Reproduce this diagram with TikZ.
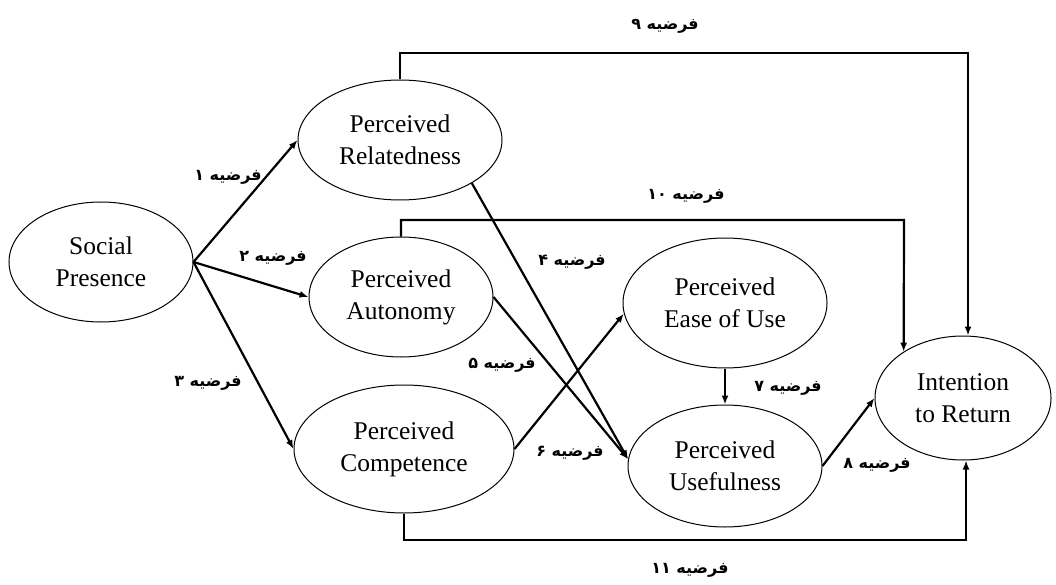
\documentclass[tikz,border=0pt]{standalone}
\usepackage{fontspec}
\setmainfont{Liberation Serif}
\newfontfamily\arabicfont[Script=Arabic]{DejaVu Sans}
\TeXXeTstate=1
\usetikzlibrary{shapes.geometric,arrows.meta}

\newcommand{\farz}[1]{\arabicfont\bfseries\beginR فرضیه \beginL#1\endL\endR}

\begin{document}
\begin{tikzpicture}[x=1pt,y=-1pt,
  construct/.style={draw,ellipse,line width=1pt,inner sep=0pt,align=center,font=\fontsize{25.5}{32}\selectfont},
  hyp/.style={line width=2.2pt,-{Latex[length=9pt,width=7pt]}},
  hyplab/.style={font=\fontsize{16}{19}\selectfont,inner sep=0pt}
]
\useasboundingbox (0,0) rectangle (1056,585);

% constructs
\node[construct,minimum width=184pt,minimum height=120pt] (social) at (101,262) {Social\\Presence};
\node[construct,minimum width=204pt,minimum height=120pt] (related) at (400,140) {Perceived\\Relatedness};
\node[construct,minimum width=184pt,minimum height=120pt] (autonomy) at (401,297) {Perceived\\Autonomy};
\node[construct,minimum width=220pt,minimum height=128pt] (compet) at (404,449) {Perceived\\Competence};
\node[construct,minimum width=204pt,minimum height=130pt] (ease) at (725,303) {Perceived\\Ease of Use};
\node[construct,minimum width=194pt,minimum height=122pt] (useful) at (725,466) {Perceived\\Usefulness};
\node[construct,minimum width=176pt,minimum height=124pt] (intent) at (963,398) {Intention\\to Return};

% direct paths
\draw[hyp] (social.east) -- (related.west); % <- h1
\draw[hyp] (social.east) -- (autonomy.west); % <- h2
\draw[hyp] (social.east) -- (compet.west); % <- h3
\draw[hyp] (related.-31) -- (useful.176); % <- h4
\draw[hyp] (autonomy.east) -- (useful.176); % <- h5
\draw[hyp] (compet.east) -- (ease.186); % <- h6
\draw[hyp] (ease.south) -- (useful.north); % <- h7
\draw[hyp] (useful.east) -- (intent.west); % <- h8

% bracket paths
\coordinate (top9) at (968,53);
\coordinate (top10) at (904,220);
\coordinate (bot11) at (966,540);
\draw[hyp] (related.north) |- (top9) -- (top9 |- intent.north); % <- h9
\draw[hyp] (autonomy.north) |- (top10) -- (intent.142); % <- h10
\draw[hyp] (compet.south) |- (bot11) -- (bot11 |- intent.south); % <- h11

% labels
\node[hyplab] (lab1) at (228,177) {\farz{۱}};
\node[hyplab] (lab2) at (273,258) {\farz{۲}};
\node[hyplab] (lab3) at (208,383) {\farz{۳}};
\node[hyplab] (lab4) at (572,262) {\farz{۴}};
\node[hyplab] (lab5) at (502,365) {\farz{۵}};
\node[hyplab] (lab6) at (570,453) {\farz{۶}};
\node[hyplab] (lab7) at (788,388) {\farz{۷}};
\node[hyplab] (lab8) at (877,465) {\farz{۸}};
\node[hyplab] (lab9) at (665,26) {\farz{۹}};
\node[hyplab] (lab10) at (686,196) {\farz{۱۰}};
\node[hyplab] (lab11) at (690,570) {\farz{۱۱}};
\end{tikzpicture}
\end{document}
